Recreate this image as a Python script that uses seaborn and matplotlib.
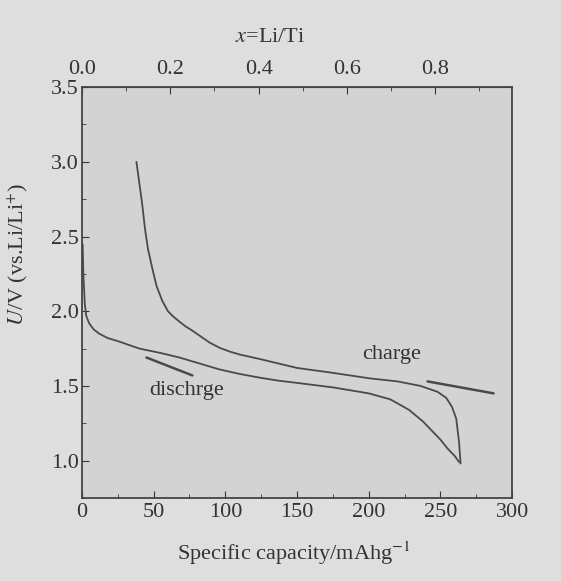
import seaborn as sns
import matplotlib.pyplot as plt
import pandas as pd
from matplotlib.ticker import MultipleLocator

# discharge curve (capacity mAh/g, voltage V)
dis_cap = [0.5, 1, 2, 3, 5, 8, 12, 18, 25, 40, 55, 68, 82, 96, 110, 124,
           137, 150, 175, 200, 215, 228, 238, 245, 250, 255, 260, 263]
dis_v = [2.45, 2.25, 2.05, 1.97, 1.92, 1.88, 1.85, 1.82, 1.80, 1.75, 1.72,
         1.69, 1.65, 1.61, 1.58, 1.555, 1.535, 1.52, 1.49, 1.45, 1.41, 1.34,
         1.26, 1.19, 1.14, 1.08, 1.03, 0.99]

# charge curve
chg_cap = [264, 263, 261, 258, 254, 248, 236, 220, 201, 173, 150, 124, 110,
           103, 96, 89, 83, 77, 72, 68, 63, 60, 56, 52, 49, 46, 44, 42, 40, 38]
chg_v = [0.98, 1.12, 1.28, 1.36, 1.42, 1.46, 1.50, 1.53, 1.55, 1.59, 1.62,
         1.68, 1.71, 1.73, 1.755, 1.79, 1.83, 1.87, 1.90, 1.93, 1.97, 2.00,
         2.07, 2.17, 2.29, 2.42, 2.55, 2.72, 2.86, 3.00]

cap_per_x = 308.0

sns.set_style("ticks")
plt.rcParams['font.family'] = ['Liberation Serif', 'DejaVu Serif']
plt.rcParams['mathtext.fontset'] = 'stix'

fig = plt.figure(figsize=(5.61, 5.81), dpi=100, facecolor='#dedede')
ax = fig.add_axes([0.146, 0.143, 0.767, 0.707])
ax.set_facecolor('#d3d3d3')

lc = '#4a4a4a'
tc = '#333333'
df_d = pd.DataFrame({"cap": dis_cap, "v": dis_v})
df_c = pd.DataFrame({"cap": chg_cap, "v": chg_v})
sns.lineplot(data=df_d, x="cap", y="v", sort=False, estimator=None,
             color=lc, lw=1.3, ax=ax)
sns.lineplot(data=df_c, x="cap", y="v", sort=False, estimator=None,
             color=lc, lw=1.3, ax=ax)

# direction markers
ax.plot([241, 287], [1.53, 1.45], color=lc, lw=1.8)
ax.plot([45, 77], [1.69, 1.57], color=lc, lw=1.8)
ax.text(216, 1.71, "charge", fontsize=16, ha='center', va='center', color=tc)
ax.text(73, 1.47, "dischrge", fontsize=16, ha='center', va='center', color=tc)

ax.set_xlim(0, 300)
ax.set_ylim(0.75, 3.5)
ax.xaxis.set_major_locator(MultipleLocator(50))
ax.xaxis.set_minor_locator(MultipleLocator(25))
ax.yaxis.set_minor_locator(MultipleLocator(0.25))
ax.set_yticks([1.0, 1.5, 2.0, 2.5, 3.0, 3.5])
ax.set_yticklabels(["1.0", "1.5", "2.0", "2.5", "3.0", "3.5"])
ax.tick_params(which='both', direction='in', colors=tc, labelsize=16,
               labelcolor=tc)
ax.tick_params(which='major', length=5)
ax.tick_params(which='minor', length=3)
ax.tick_params(axis='y', pad=2)
for s in ax.spines.values():
    s.set_color('#444444')
    s.set_linewidth(1.3)
ax.set_xlabel("")
ax.set_ylabel("")

top = ax.secondary_xaxis('top', functions=(lambda c: c / cap_per_x,
                                           lambda x: x * cap_per_x))
top.set_xticks([0.0, 0.2, 0.4, 0.6, 0.8])
top.set_xticklabels(["0.0", "0.2", "0.4", "0.6", "0.8"])
top.xaxis.set_minor_locator(MultipleLocator(0.1))
top.tick_params(which='both', direction='in', labelsize=16, colors=tc, pad=6)
top.tick_params(which='major', length=5)
top.tick_params(which='minor', length=3)
top.spines['top'].set_color('#444444')

# axis titles
fig.text(0.524, 0.048, "Specific capacity/mAhg$^{-1}$", fontsize=16,
         color=tc, ha='center', va='center')
fig.text(0.032, 0.561, "$U$/V (vs.Li/Li$^{+}$)", fontsize=16, color=tc,
         ha='center', va='center', rotation=90)
fig.text(0.481, 0.935, "$x$=Li/Ti", fontsize=16, color=tc,
         ha='center', va='center')

fig.savefig("out.png", dpi=100, facecolor=fig.get_facecolor())
